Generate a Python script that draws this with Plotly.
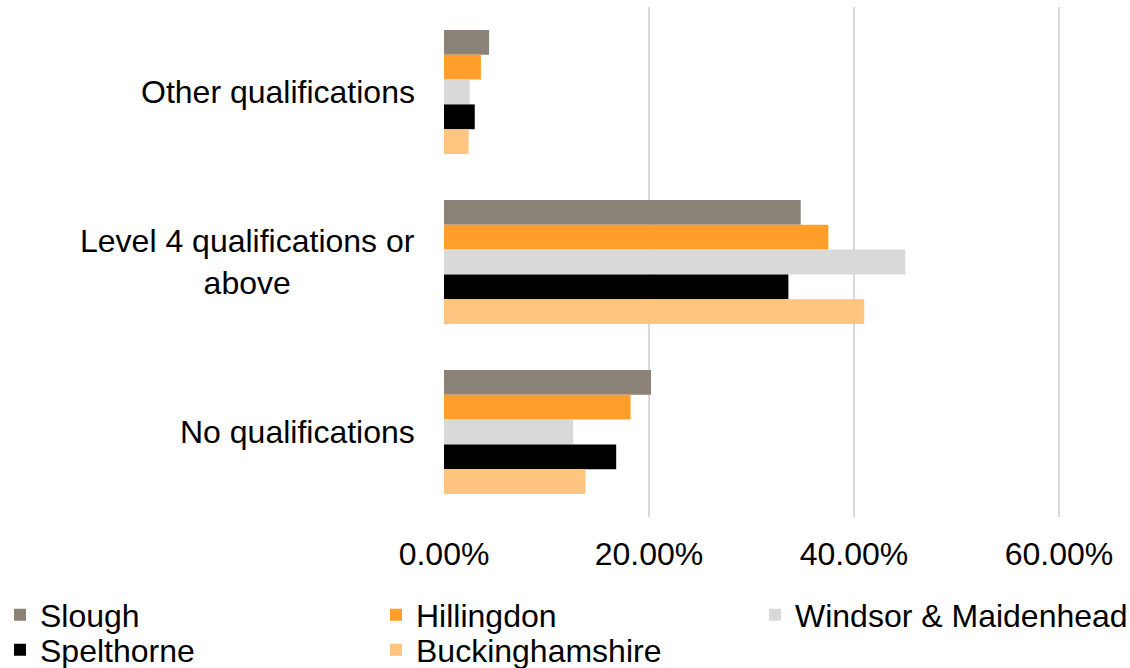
import plotly.graph_objects as go

categories = ["Other qualifications", "Level 4 qualifications or<br>above", "No qualifications"]

areas = ["Slough", "Hillingdon", "Windsor & Maidenhead", "Spelthorne", "Buckinghamshire"]
slough = [0.044, 0.348, 0.202]
hillingdon = [0.036, 0.375, 0.182]
windsor = [0.025, 0.450, 0.126]
spelthorne = [0.030, 0.336, 0.168]
bucks = [0.024, 0.410, 0.138]

x_ticks = [0, 0.2, 0.4, 0.6]
x_tick_labels = ["0.00%", "20.00%", "40.00%", "60.00%"]

colors = ["#8b8378", "#ff9e2a", "#d9d9d9", "#000000", "#ffc47f"]

font = "Liberation Sans, Arial, sans-serif"
fs = 32

# legend slots (left px, centre y px) for each area, laid out like the original
legend_pos = [(0, 615), (376, 615), (755, 615), (0, 650), (376, 650)]

fig = go.Figure()

legends = {}
for i, (name, vals, col) in enumerate(zip(areas, [slough, hillingdon, windsor, spelthorne, bucks], colors)):
    key = "legend" if i == 0 else f"legend{i + 1}"
    fig.add_trace(
        go.Bar(y=categories, x=vals, name=name, orientation="h",
               marker_color=col, marker_line_width=0, legend=key)
    )
    lx, ly = legend_pos[i]
    legends[key] = dict(xref="container", yref="container",
                        x=lx / 1130, y=1 - ly / 668,
                        xanchor="left", yanchor="middle",
                        font=dict(size=fs, family=font, color="#000000"),
                        bgcolor="rgba(0,0,0,0)")

# category labels as centred multi-line text
for cat in categories:
    fig.add_annotation(x=-27 / 616, xref="paper", y=cat, yref="y",
                       text=cat, showarrow=False, xanchor="right", align="center",
                       font=dict(size=fs, color="#000000", family=font))

fig.update_layout(
    barmode="group",
    bargap=0.27,
    bargroupgap=0,
    plot_bgcolor="white",
    paper_bgcolor="white",
    width=1130,
    height=668,
    margin=dict(l=444, r=70, t=7, b=151, autoexpand=False),
    font=dict(family=font, size=fs, color="#000000"),
    xaxis=dict(range=[0, 0.601], tickvals=x_ticks, ticktext=x_tick_labels,
               showgrid=True, gridcolor="#d9d9d9", gridwidth=2,
               zeroline=False, showline=False, ticks="",
               ticklabelstandoff=15, tickfont=dict(size=fs)),
    yaxis=dict(autorange="reversed", showticklabels=False, showgrid=False,
               zeroline=False, showline=False, ticks=""),
    showlegend=True,
    **legends,
)

fig.write_html("out.html", config={"displayModeBar": False},
               post_script="document.body.style.margin='0';")
